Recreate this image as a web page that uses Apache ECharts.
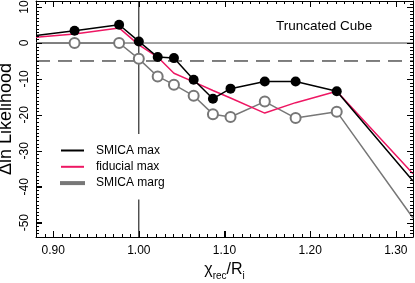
<!DOCTYPE html>
<html>
<head>
<meta charset="utf-8">
<script src="https://cdn.jsdelivr.net/npm/echarts@6/dist/echarts.min.js"></script>
<style>html,body{margin:0;padding:0;background:#fff}#c{width:415px;height:283px}</style>
</head>
<body>
<div id="c"></div>
<script>
// ---- data ----
const xs          = [0.880, 0.925, 0.977, 1.000, 1.022, 1.041, 1.064, 1.0865, 1.107, 1.147, 1.183, 1.231, 1.320];
const smicaMax    = [2.1, 3.4, 5.1, 0.45, -3.9, -4.2, -10.2, -15.5, -12.7, -10.7, -10.7, -13.4, -38.4];
const fiducialMax = [1.6, 2.5, 4.2, -0.5, -3.9, -8.4, -10.8, -13.2, -15.3, -19.5, -16.6, -13.4, -36.4];
const smicaMarg   = [0.0, 0.0, 0.0, -4.4, -9.3, -11.6, -14.7, -19.8, -20.6, -16.3, -20.9, -19.1, -48.7];
const seriesNames = ['SMICA max', 'fiducial max', 'SMICA marg'];
const titleText = 'Truncated Cube';
const xMajorTicks = [0.90, 1.00, 1.10, 1.20, 1.30];
const yMajorTicks = [-50, -40, -30, -20, -10, 0, 10];
const xRange = [0.88, 1.32];
const yRange = [-54, 11.7];
const refZero = 0, refDashed = -5, refX = 1.00;

const xMinorTicks = [];
for (let i = 88; i <= 132; i++) xMinorTicks.push(i / 100);
const yMinorTicks = [];
for (let v = -54; v <= 11; v++) yMinorTicks.push(v);

const F = 'Liberation Sans, Arial, Helvetica, sans-serif';
const PINK = '#ee1763', GRAY = '#777777';

function pts(ys, marker) {
  return xs.map((x, i) => {
    const edge = (i === 0 || i === xs.length - 1);
    const d = { value: [x, ys[i]] };
    if (!marker || edge) d.symbol = 'none';
    return d;
  });
}

// inward tick marks on all four sides, placed through the cartesian scales
function tickSeries(values, axis, len) {
  return {
    type: 'custom', coordinateSystem: 'cartesian2d', xAxisIndex: 0, yAxisIndex: 0,
    clip: false, silent: true, z: 6,
    data: values.map(v => axis === 'x' ? [v, yRange[0]] : [xRange[0], v]),
    encode: { x: 0, y: 1 },
    renderItem: function (params, api) {
      const v = axis === 'x' ? api.value(0) : api.value(1);
      let segs;
      if (axis === 'x') {
        const b = api.coord([v, yRange[0]]), t = api.coord([v, yRange[1]]);
        const x = Math.round(b[0]) + 0.5;
        segs = [[x, b[1], x, b[1] - len], [x, t[1], x, t[1] + len]];
      } else {
        const l = api.coord([xRange[0], v]), r = api.coord([xRange[1], v]);
        const y = Math.round(l[1]) + 0.5;
        segs = [[l[0], y, l[0] + len, y], [r[0], y, r[0] - len, y]];
      }
      return { type: 'group', children: segs.map(s => ({
        type: 'line', shape: { x1: s[0], y1: s[1], x2: s[2], y2: s[3] },
        style: { stroke: '#000', lineWidth: 1 } })) };
    }
  };
}

const mainLine = { show: true, onZero: false, lineStyle: { color: '#000', width: 1 } };
const gridBox = { left: 36, right: 2, top: 1, bottom: 46, containLabel: false,
  outerBounds: { left: -60, right: -60, top: -60, bottom: -60 } };

const chart = echarts.init(document.getElementById('c'), null, { renderer: 'canvas' });
chart.setOption({
  animation: false,
  grid: gridBox,
  title: {
    text: titleText, left: 271, top: 14,
    textStyle: { fontFamily: F, fontSize: 13.5, fontWeight: 'normal', color: '#000' }
  },
  legend: {
    orient: 'vertical', left: 50, top: 134,
    padding: [9, 8, 9, 10], itemGap: 1.3,
    backgroundColor: '#fff',
    icon: 'rect', itemWidth: 23, itemHeight: 2,
    data: seriesNames,
    textStyle: { fontFamily: F, fontSize: 12, color: '#000', lineHeight: 15, padding: [0, 0, 0, 7] },
    selectedMode: false
  },
  xAxis: [
    { type: 'value', position: 'bottom', min: xRange[0], max: xRange[1],
      splitLine: { show: false }, axisLine: mainLine,
      axisTick: { show: true, inside: true, length: 6, customValues: xMajorTicks, lineStyle: { color: '#000', width: 1 } },
      axisLabel: { show: true, customValues: xMajorTicks, formatter: v => v.toFixed(2),
        fontFamily: F, fontSize: 12, color: '#000', margin: 8 },
      name: '{a|χ}{s|rec}{a|/R}{s|i}', nameLocation: 'middle', nameGap: 20,
      nameTextStyle: { rich: {
        a: { fontFamily: F, fontSize: 16, color: '#000', lineHeight: 20, verticalAlign: 'bottom' },
        s: { fontFamily: F, fontSize: 10, color: '#000', lineHeight: 14, verticalAlign: 'bottom', padding: [0, 0, -3, 0] }
      } } },
    { type: 'value', position: 'top', min: xRange[0], max: xRange[1],
      splitLine: { show: false }, axisLine: mainLine, axisTick: { show: false }, axisLabel: { show: false } }
  ],
  yAxis: [
    { type: 'value', position: 'left', min: yRange[0], max: yRange[1],
      splitLine: { show: false }, axisLine: mainLine,
      axisTick: { show: true, inside: true, length: 6, customValues: yMajorTicks, lineStyle: { color: '#000', width: 1 } },
      axisLabel: { show: true, customValues: yMajorTicks, rotate: 90,
        fontFamily: F, fontSize: 12, color: '#000', margin: 5 },
      name: 'Δln Likelihood', nameLocation: 'middle', nameGap: 21, nameRotate: 90, nameMoveOverlap: false,
      nameTextStyle: { fontFamily: F, fontSize: 18, color: '#000' } },
    { type: 'value', position: 'right', min: yRange[0], max: yRange[1],
      splitLine: { show: false }, axisLine: mainLine, axisTick: { show: false }, axisLabel: { show: false } }
  ],
  series: [
    tickSeries(xMajorTicks, 'x', 6),
    tickSeries(xMinorTicks, 'x', 3),
    tickSeries(yMajorTicks, 'y', 6),
    tickSeries(yMinorTicks, 'y', 3),
    { type: 'line', name: 'ref0', symbol: 'none', silent: true, z: 1,
      data: [[xRange[0], refZero], [xRange[1], refZero]], lineStyle: { color: '#444', width: 1 } },
    { type: 'line', name: 'ref5', symbol: 'none', silent: true, z: 1,
      data: [[xRange[0], refDashed], [xRange[1], refDashed]], lineStyle: { color: '#000', width: 1, type: [14, 8] } },
    { type: 'line', name: 'refx', symbol: 'none', silent: true, z: 1,
      data: [[refX, yRange[1]], [refX, yRange[0]]], lineStyle: { color: '#000', width: 1 } },
    { type: 'line', name: seriesNames[2], data: pts(smicaMarg, true),
      symbol: 'emptyCircle', symbolSize: 10, showAllSymbol: true, z: 2,
      itemStyle: { color: GRAY, borderColor: GRAY, borderWidth: 1 }, lineStyle: { color: GRAY, width: 1.5 } },
    { type: 'line', name: seriesNames[1], data: pts(fiducialMax, false),
      symbol: 'none', z: 3, lineStyle: { color: PINK, width: 1.5 }, itemStyle: { color: PINK } },
    { type: 'line', name: seriesNames[0], data: pts(smicaMax, true),
      symbol: 'circle', symbolSize: 10, showAllSymbol: true, z: 3,
      itemStyle: { color: '#000' }, lineStyle: { color: '#000', width: 1.5 } }
  ]
});
</script>
</body>
</html>
